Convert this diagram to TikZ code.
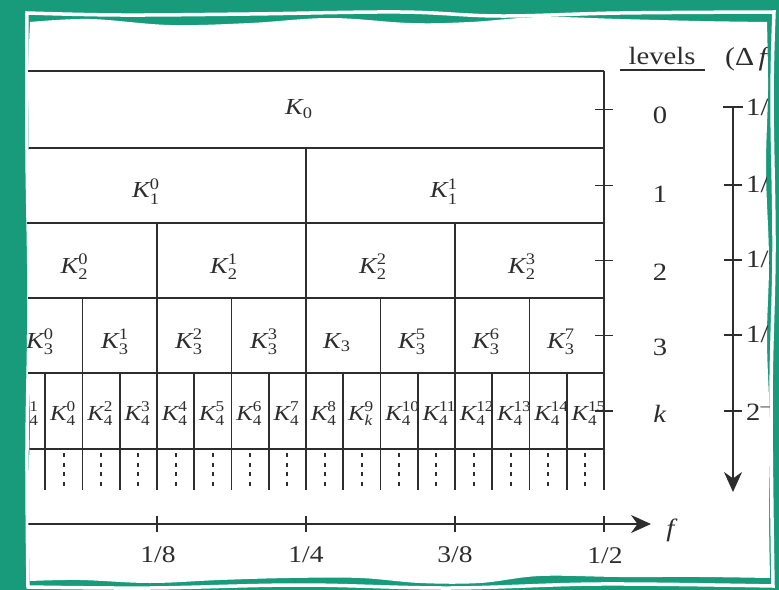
\documentclass[tikz,border=0pt]{standalone}
\usepackage{amsmath}
\usepackage{fontspec}
\setmainfont{Liberation Serif}[FakeStretch=1.15]
\usetikzlibrary{arrows.meta}
\definecolor{framecol}{RGB}{24,155,122}
\definecolor{ink}{RGB}{45,45,45}
\newcommand{\KK}[2]{$\textit{K}_{\text{#1}}^{\text{#2}}$}
\newcommand{\Ks}[1]{$\textit{K}_{\text{#1}}$}
\def\innerpath{plot[smooth,tension=0.6] coordinates {(30,22) (90,19) (170,25) (250,23) (330,18) (410,23) (470,22) (540,17) (620,19) (700,21) (767,22)}
 -- plot[smooth,tension=0.6] coordinates {(767,22) (768,90) (766,170) (769,260) (767,340) (770,430) (769,510) (770,578)}
 -- plot[smooth,tension=0.6] coordinates {(770,578) (700,577) (620,577) (540,576) (480,583) (420,583) (360,578) (290,578) (220,580) (150,583) (80,580) (30,581)}
 -- plot[smooth,tension=0.6] coordinates {(30,581) (28,500) (30,420) (27,340) (29,260) (26,200) (29,140) (28,80) (30,22)} -- cycle}
\def\outerpath{plot[smooth,tension=0.6] coordinates {(27,13) (120,15) (250,14) (400,12) (500,16) (620,13) (774,12)}
 -- plot[smooth,tension=0.6] coordinates {(774,12) (772,100) (774,250) (771,400) (773,586)}
 -- plot[smooth,tension=0.6] coordinates {(773,586) (600,584) (450,588) (300,585) (150,588) (28,587)}
 -- plot[smooth,tension=0.6] coordinates {(28,587) (27,450) (29,300) (27,150) (27,13)} -- cycle}
\tikzset{
  gridline/.style={draw=ink, line width=1.7bp},
  dashline/.style={draw=ink, line width=1.9bp, dash pattern=on 4bp off 5.5bp},
  klab/.style={text=ink, inner sep=0pt, anchor=base west, font=\fontsize{23}{25}\selectfont},
  klabsmall/.style={text=ink, inner sep=0pt, anchor=base west, font=\fontsize{21.5}{23}\selectfont},
  levlab/.style={text=ink, inner sep=0pt, anchor=base, font=\fontsize{25}{28}\selectfont},
  axlab/.style={text=ink, inner sep=0pt, anchor=base, font=\fontsize{24}{26}\selectfont},
  dflab/.style={text=ink, inner sep=0pt, anchor=west, font=\fontsize{25}{27}\selectfont},
  axarrow/.style={gridline, -{Stealth[length=20bp,width=18bp]}}
}
\begin{document}
\begin{tikzpicture}[x=1bp,y=-1bp]
\useasboundingbox (0,0) rectangle (779,590);
\fill[framecol] (0,0) rectangle (779,590);
\draw[white, line width=3.5bp] \outerpath;
\fill[white] \innerpath;
\begin{scope}
\clip \innerpath;
% horizontal grid lines
\foreach \yy in {71,148,223,298,373,449} \draw[gridline] (0,\yy) -- (604,\yy);
\draw[gridline] (604,71) -- (604,490);
% vertical dividers
\foreach \i/\t in {8/148,4/223,12/223,2/298,6/298,10/298,14/298,1/373,3/373,5/373,7/373,9/373,11/373,13/373,15/373}
  \draw[gridline] ({8+37.25*\i},\t) -- ({8+37.25*\i},490);
\foreach \i in {0,...,15} \draw[dashline] ({8+37.25*(\i+0.5)},453) -- ({8+37.25*(\i+0.5)},488);
% ticks on the right edge
\foreach \yy in {109.5,185.5,260.5,335.5,411} \draw[gridline] (595,\yy) -- (613,\yy);
% labels
\node[klab] (k0) at (285,115) {\Ks{0}};
\node[klab] (k10) at (132,198) {\KK{1}{0}};
\node[klab] (k11) at (430,198) {\KK{1}{1}};
\foreach \j/\c in {0/82.5,1/232,2/381,3/530} \node[klab] (k2\j) at (\c-22,273) {\KK{2}{\j}};
\foreach \j/\c in {0/45,1/120,2/194,3/269} \node[klab] (k3\j) at (\c-19,348) {\KK{3}{\j}};
\node[klab] (k34) at (323,348) {\Ks{3}};
\foreach \j/\c in {5/418,6/492,7/567} \node[klab] (k3\j) at (\c-20,348) {\KK{3}{\j}};
\node[klabsmall] (k41) at ({8+37.25*0.5-14},420) {\KK{4}{1}};
\foreach \j/\n in {1/0,2/2,3/3,4/4,5/5,6/6,7/7,8/8,10/10,11/11,12/12,13/13,14/14,15/15}
  \node[klabsmall] (k4c\j) at ({8+37.25*(\j+0.5)-14},420) {\KK{4}{\n}};
\node[klabsmall] (k4c9) at ({8+37.25*9.5-14},420) {$\textit{K}_{\textit{k}}^{\text{9}}$};
% levels column
\node[levlab] (levhead) at (662,65) {levels};
\draw[ink, line width=2bp] (620,70) -- (705,70);
\node[levlab] (l0) at (660,124) {0};
\node[levlab] (l1) at (660,203) {1};
\node[levlab] (l2) at (660,280) {2};
\node[levlab] (l3) at (660,355) {3};
\node[levlab] (lk) at (660,422) {\textit{k}};
% delta f axis
\node[levlab, anchor=base west, font=\fontsize{26}{28}\selectfont] (dfhead) at (725,66) {(Δ\,\textit{f})};
\coordinate (dtop) at (733,107);
\coordinate (dbot) at (733,492);
\draw[axarrow] (dtop) -- (dbot);
\draw[gridline] (723,107) -- (743,107);
\foreach \yy in {185,260,335,411} \draw[gridline] (724,\yy) -- (742,\yy);
\node[dflab] (d0) at (746,107) {1/2};
\node[dflab] (d1) at (746,184) {1/4};
\node[dflab] (d2) at (746,259) {1/8};
\node[dflab] (d3) at (746,334) {1/16};
\node[dflab] (d4) at (746,410) {2\textsuperscript{--\textit{k}--1}};
% frequency axis
\coordinate (fstart) at (0,524);
\coordinate (fend) at (651,524);
\draw[axarrow] (fstart) -- (fend);
\foreach \xx in {157,306,455,604} \draw[gridline] (\xx,516) -- (\xx,532);
\node[axlab] (f1) at (158,562) {1/8};
\node[axlab] (f2) at (306,562) {1/4};
\node[axlab] (f3) at (455,562) {3/8};
\node[axlab] (f4) at (605,563) {1/2};
\node[levlab] (fl) at (672,536) {\textit{f}};
\end{scope}
\end{tikzpicture}
\end{document}
